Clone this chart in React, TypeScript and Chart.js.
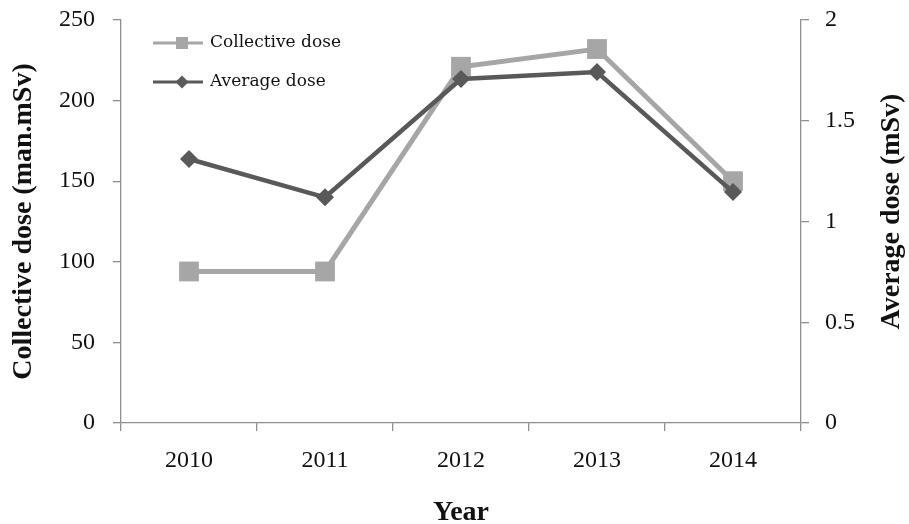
import React, { useEffect, useRef } from "react";
import { Chart, registerables } from "chart.js";

Chart.register(...registerables);

const years = ["2010", "2011", "2012", "2013", "2014"];
const collectiveDose = [94, 94, 221, 232, 150];
const averageDose = [1.31, 1.12, 1.707, 1.742, 1.146];
const leftTicks = [0, 50, 100, 150, 200, 250];
const rightTicks = [0, 0.5, 1, 1.5, 2];

const seriesNames = ["Collective dose", "Average dose"];
const titleLeft = "Collective dose (man.mSv)";
const titleRight = "Average dose (mSv)";
const titleX = "Year";

const LIGHT = "#a6a6a6";
const DARK = "#595959";
const AXIS = "#8f8f8f";
const SERIF = "'Liberation Serif', 'Times New Roman', serif";

const decorPlugin = {
  id: "decor",
  afterDraw(chart: any) {
    const { ctx, chartArea } = chart;
    const { left, right, top, bottom } = chartArea;
    ctx.save();
    ctx.fillStyle = "#111";
    ctx.font = `bold 28px ${SERIF}`;
    ctx.textAlign = "center";
    ctx.textBaseline = "middle";
    ctx.save();
    ctx.translate(24, (top + bottom) / 2);
    ctx.rotate(-Math.PI / 2);
    ctx.fillText(titleLeft, 0, 0);
    ctx.restore();
    ctx.save();
    ctx.translate(892, (top + bottom) / 2 - 10);
    ctx.rotate(-Math.PI / 2);
    ctx.fillText(titleRight, 0, 0);
    ctx.restore();
    ctx.fillText(titleX, (left + right) / 2, 513);

    const rows = [
      { y: top + 23, color: LIGHT, style: "rect", r: 8.5 },
      { y: top + 62, color: DARK, style: "rectRot", r: 6.5 },
    ];
    rows.forEach((row, i) => {
      ctx.strokeStyle = row.color;
      ctx.lineWidth = 3;
      ctx.beginPath();
      ctx.moveTo(left + 32, row.y);
      ctx.lineTo(left + 82, row.y);
      ctx.stroke();
      ctx.fillStyle = row.color;
      const cx = left + 61;
      ctx.beginPath();
      if (row.style === "rect") {
        const s = row.r * Math.SQRT1_2;
        ctx.rect(cx - s, row.y - s, 2 * s, 2 * s);
      } else {
        ctx.moveTo(cx, row.y - row.r);
        ctx.lineTo(cx + row.r, row.y);
        ctx.lineTo(cx, row.y + row.r);
        ctx.lineTo(cx - row.r, row.y);
        ctx.closePath();
      }
      ctx.fill();
      ctx.fillStyle = "#111";
      ctx.font = `17px 'DejaVu Serif', serif`;
      ctx.textAlign = "left";
      ctx.textBaseline = "middle";
      ctx.fillText(seriesNames[i], left + 89, row.y);
    });
    ctx.restore();
  },
};

export default function App() {
  const ref = useRef<HTMLCanvasElement>(null);
  useEffect(() => {
    if (!ref.current) return;
    const tickFont = { family: SERIF, size: 24 };
    const fmt = (v: any) => String(v);
    const chart = new Chart(ref.current, {
      type: "line",
      data: {
        labels: years,
        datasets: [
          {
            label: seriesNames[0],
            data: collectiveDose,
            yAxisID: "y",
            borderColor: LIGHT,
            backgroundColor: LIGHT,
            borderWidth: 5,
            pointStyle: "rect",
            pointRadius: 14,
            pointHoverRadius: 14,
            pointBorderWidth: 0,
            order: 1,
            clip: false as any,
          },
          {
            label: seriesNames[1],
            data: averageDose,
            yAxisID: "y2",
            borderColor: DARK,
            backgroundColor: DARK,
            borderWidth: 4.5,
            pointStyle: "rectRot",
            pointRadius: 9,
            pointHoverRadius: 9,
            pointBorderWidth: 0,
            order: 0,
            clip: false as any,
          },
        ],
      },
      options: {
        responsive: false,
        animation: false,
        layout: { padding: { top: 20, left: 0, right: 0, bottom: 0 } },
        plugins: { legend: { display: false }, tooltip: { enabled: false } },
        scales: {
          x: {
            offset: true,
            grid: { display: true, drawOnChartArea: false, offset: true, tickLength: 8, color: AXIS, lineWidth: 1.3 },
            border: { color: AXIS, width: 1.3 },
            ticks: { font: tickFont, color: "#111", padding: 15, maxRotation: 0 },
            afterFit: (s: any) => { s.height = 101; s.paddingLeft = 0; s.paddingRight = 0; },
          },
          y: {
            position: "left",
            min: 0,
            max: 250,
            afterBuildTicks: (s: any) => { s.ticks = leftTicks.map((v) => ({ value: v })); },
            grid: { display: true, drawOnChartArea: false, tickLength: 8, color: AXIS, lineWidth: 1.3 },
            border: { color: AXIS, width: 1.3 },
            ticks: { font: tickFont, color: "#111", padding: 18, callback: fmt },
            afterFit: (s: any) => { s.width = 121; s.paddingTop = 0; s.paddingBottom = 0; },
          },
          y2: {
            position: "right",
            min: 0,
            max: 2,
            afterBuildTicks: (s: any) => { s.ticks = rightTicks.map((v) => ({ value: v })); },
            grid: { display: true, drawOnChartArea: false, tickLength: 8, color: AXIS, lineWidth: 1.3 },
            border: { color: AXIS, width: 1.3 },
            ticks: { font: tickFont, color: "#111", padding: 16, callback: fmt },
            afterFit: (s: any) => { s.width = 108; s.paddingTop = 0; s.paddingBottom = 0; },
          },
        },
      },
      plugins: [decorPlugin],
    } as any);
    return () => chart.destroy();
  }, []);
  return (
    <div style={{ position: "fixed", left: 0, top: 0, width: 909, height: 524, background: "#fff" }}>
      <canvas ref={ref} width={909} height={524} style={{ width: 909, height: 524 }} />
    </div>
  );
}
